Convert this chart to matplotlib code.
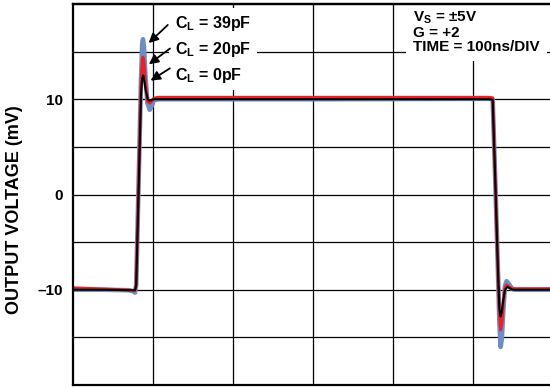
import matplotlib
matplotlib.use('agg')
import matplotlib.pyplot as plt

# time axis in ns, output voltage in mV
t_39pf = [0, 40, 70, 75, 77.5, 79, 85, 86.5, 87.5, 88.7, 90.5, 93, 96, 98.5, 101, 106, 150,
          300, 520, 524.6, 528, 531, 533, 534.5, 536, 538, 540, 542, 545, 549, 553, 600]
v_39pf = [-10.0, -10.0, -10.05, -10.15, -10.3, -9.5, 12.0, 15.8, 16.3, 15.5, 12.5, 9.6, 8.9,
          9.3, 9.9, 10.0, 10.0, 10.0, 10.05, 10.0, 1.0, -7.5, -13.5, -16.0, -15.2, -12.0,
          -9.6, -9.1, -9.4, -9.9, -10.0, -10.0]

t_20pf = [0, 30, 60, 77.5, 79, 85, 86.5, 87.5, 88.7, 90.5, 93, 96, 98.5, 101, 106, 150,
          300, 520, 524.6, 528, 531, 533, 534.5, 536, 538, 540, 542, 545, 549, 553, 600]
v_20pf = [-9.8, -9.9, -10.0, -10.1, -9.5, 11.5, 14.0, 14.4, 13.8, 11.8, 9.8, 9.6,
          9.8, 10.1, 10.2, 10.2, 10.2, 10.2, 10.15, 1.0, -7.5, -12.6, -14.2, -13.6, -11.2,
          -9.8, -9.5, -9.7, -9.9, -9.9, -9.9]

t_0pf = [0, 40, 77.5, 79, 85, 86.5, 87.8, 89, 91, 93.5, 96, 98.5, 101, 150,
         300, 520, 524.6, 528, 531, 533, 534.5, 536, 538, 540, 543, 546, 550, 560, 600]
v_0pf = [-10.0, -10.0, -10.05, -9.5, 10.5, 12.2, 12.5, 12.0, 10.9, 10.0, 9.85,
         9.95, 10.0, 10.0, 10.0, 10.0, 9.95, 1.0, -7.5, -12.0, -12.8, -12.3, -11.0,
         -10.0, -9.7, -9.85, -10.0, -10.0, -10.0]

y_ticks = [-15, -10, -5, 0, 5, 10, 15]
y_tick_labels = ['', '\u201310', '', '0', '', '10', '']
x_ticks = [100, 200, 300, 400, 500]

cap_labels = ['C$_\\mathregular{L}$ = 39pF', 'C$_\\mathregular{L}$ = 20pF', 'C$_\\mathregular{L}$ = 0pF']
cond_labels = ['V$_\\mathregular{S}$ = \u00b15V', 'G = +2', 'TIME = 100ns/DIV']

plt.rcParams['font.family'] = ['Liberation Sans', 'DejaVu Sans']
plt.rcParams['font.weight'] = 'bold'

fig = plt.figure(figsize=(5.5, 3.89), dpi=100)
ax = fig.add_axes([73/550, 1 - 385/389, 480/550, 381/389])

ax.plot(t_39pf, v_39pf, color='#6f8dc2', lw=3.3, solid_capstyle='round', zorder=3)
ax.plot(t_20pf, v_20pf, color='#e8202a', lw=2.2, zorder=4)
ax.plot(t_0pf, v_0pf, color='black', lw=1.5, zorder=5)

ax.set_xlim(0, 600)
ax.set_ylim(-20, 20)
ax.set_xticks(x_ticks)
ax.set_xticklabels([])
ax.set_yticks(y_ticks)
ax.set_yticklabels(y_tick_labels)
ax.tick_params(length=0, pad=7, labelsize=11)
for lab in ax.get_yticklabels():
    lab.set_fontweight('bold')
ax.grid(True, color='black', lw=0.9)
ax.set_axisbelow(True)
for s in ax.spines.values():
    s.set_linewidth(1.6)
    s.set_zorder(8)
# top frame line (the right edge of the plot runs off the figure)
ax.axhline(20, color='black', lw=1.6, clip_on=False, zorder=8)

fig.text(15/550, 1 - 210/389, 'OUTPUT VOLTAGE (mV)', rotation=90, ha='center', va='center',
         fontsize=13, fontweight='bold')

# load capacitance labels with arrows
ax.text(127.5, 19.0, '\n'.join(cap_labels), ha='left', va='top', fontsize=11.5,
        fontweight='bold', linespacing=1.5,
        bbox=dict(facecolor='white', edgecolor='none', pad=4), zorder=6)
arrow_heads = [(92.0, 15.7), (92.0, 13.5), (94.0, 11.8)]
arrow_tails = [(121.0, 18.0), (124.0, 15.5), (124.0, 13.4)]
for head, tail in zip(arrow_heads, arrow_tails):
    ax.annotate('', xy=head, xytext=tail,
                arrowprops=dict(arrowstyle='-|>', color='black', lw=1.3, mutation_scale=14),
                zorder=7)

ax.text(425, 19.45, '\n'.join(cond_labels), ha='left', va='top', fontsize=11,
        fontweight='bold', linespacing=1.0,
        bbox=dict(facecolor='white', edgecolor='none', pad=5), zorder=6)

fig.savefig('out.png', dpi=100)
